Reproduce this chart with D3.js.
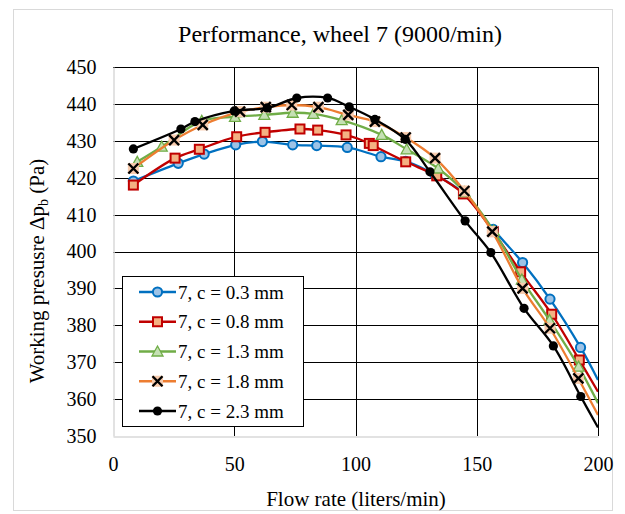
<!DOCTYPE html>
<html>
<head>
<meta charset="utf-8">
<script src="https://cdn.jsdelivr.net/npm/d3@7"></script>
<style>
  body { margin: 0; background: #fff; }
  text { font-family: "Liberation Serif", "Times New Roman", serif; fill: #000; }
</style>
</head>
<body>
<div id="chart"></div>
<script>
// Flow rate (liters/min) and working pressure (Pa) for each clearance
const flow03 = [8.4, 26.9, 37.6, 50.6, 61.6, 74.1, 84.0, 96.6, 110.5, 120.7, 132.8, 144.6, 156.8, 168.9, 180.2, 192.8];
const pres03 = [419.1, 423.9, 426.4, 428.9, 429.8, 428.9, 428.7, 428.2, 425.7, 424.4, 420.8, 415.8, 406.0, 397.0, 387.1, 374.0];

const flow08 = [8.4, 25.6, 35.6, 51.0, 62.7, 77.1, 84.4, 96.1, 105.7, 107.3, 120.7, 133.5, 144.5, 156.8, 168.1, 180.9, 192.3];
const pres08 = [418.0, 425.3, 427.7, 431.1, 432.3, 433.2, 432.9, 431.6, 429.3, 428.7, 424.3, 420.5, 415.6, 405.4, 394.5, 383.0, 370.6];

const flow13 = [10.0, 20.1, 36.6, 50.3, 62.4, 74.1, 82.6, 94.3, 110.8, 121.1, 134.1, 145.0, 157.0, 168.6, 180.0, 192.0];
const pres13 = [424.3, 428.4, 435.4, 436.5, 437.0, 437.6, 437.3, 435.6, 431.6, 427.7, 422.5, 416.1, 405.6, 392.4, 381.4, 368.8];

const flow18 = [8.4, 25.2, 37.0, 52.4, 63.0, 73.7, 84.7, 97.0, 108.0, 120.7, 132.8, 144.9, 156.4, 168.9, 180.2, 191.9];
const pres18 = [422.5, 430.2, 434.3, 437.9, 439.1, 439.7, 439.1, 437.0, 435.2, 430.9, 425.3, 416.4, 405.4, 390.0, 379.2, 365.6];

const flow23 = [8.4, 28.0, 33.8, 50.0, 63.6, 75.8, 88.5, 97.4, 108.0, 120.5, 130.7, 145.2, 155.8, 169.5, 181.6, 192.9];
const pres23 = [427.8, 433.2, 435.2, 438.1, 438.9, 441.6, 441.6, 439.2, 435.8, 430.4, 421.6, 408.3, 399.7, 384.6, 374.4, 360.7];

// The smoothed lines run on to the right edge of the plot (no marker there)
const lineEndFlow = 200;
const lineEndPres = [365.2, 362.0, 358.9, 355.7, 352.3];

const seriesNames = ["7, c = 0.3 mm", "7, c = 0.8 mm", "7, c = 1.3 mm", "7, c = 1.8 mm", "7, c = 2.3 mm"];
const xTicks = [0, 50, 100, 150, 200];
const yTicks = [350, 360, 370, 380, 390, 400, 410, 420, 430, 440, 450];

const series = [
  { name: seriesNames[0], flow: flow03, pres: pres03, end: lineEndPres[0], line: "#0070C0", marker: "circle" },
  { name: seriesNames[1], flow: flow08, pres: pres08, end: lineEndPres[1], line: "#C00000", marker: "square" },
  { name: seriesNames[2], flow: flow13, pres: pres13, end: lineEndPres[2], line: "#70AD47", marker: "triangle" },
  { name: seriesNames[3], flow: flow18, pres: pres18, end: lineEndPres[3], line: "#ED7D31", marker: "cross" },
  { name: seriesNames[4], flow: flow23, pres: pres23, end: lineEndPres[4], line: "#000000", marker: "dot" }
];

// Set dimensions for the SVG
const W = 625, H = 514;
const plot = { left: 113, top: 67, right: 598, bottom: 436 };

const svg = d3.select("#chart")
  .append("svg")
  .attr("width", W)
  .attr("height", H);

// Chart frame
svg.append("rect")
  .attr("x", 13.5).attr("y", 9.5)
  .attr("width", 599).attr("height", 501)
  .attr("fill", "#fff")
  .attr("stroke", "#d9d9d9");

const x = d3.scaleLinear().domain([0, 200]).range([plot.left, plot.right]);
const y = d3.scaleLinear().domain([350, 450]).range([plot.bottom, plot.top]);

// Grid lines (black)
const grid = svg.append("g").attr("class", "grid");
grid.selectAll(".hgrid")
  .data(yTicks.filter((d) => d > 350))
  .enter()
  .append("line")
  .attr("x1", plot.left).attr("x2", plot.right)
  .attr("y1", (d) => Math.round(y(d)) + 0.5).attr("y2", (d) => Math.round(y(d)) + 0.5)
  .attr("stroke", "#000")
  .attr("stroke-width", 1);
grid.selectAll(".vgrid")
  .data(xTicks.filter((d) => d > 0))
  .enter()
  .append("line")
  .attr("x1", (d) => Math.round(x(d)) + 0.5).attr("x2", (d) => Math.round(x(d)) + 0.5)
  .attr("y1", plot.top).attr("y2", plot.bottom)
  .attr("stroke", "#000")
  .attr("stroke-width", 1);

// Axes (grey lines, no ticks)
const xAxis = svg.append("g")
  .attr("transform", `translate(0,${Math.round(plot.bottom) + 0.5})`)
  .call(d3.axisBottom(x).tickValues(xTicks).tickSize(0).tickPadding(20));
const yAxis = svg.append("g")
  .attr("transform", `translate(${Math.round(plot.left) + 0.5},0)`)
  .call(d3.axisLeft(y).tickValues(yTicks).tickSize(0).tickPadding(17));
[xAxis, yAxis].forEach((g) => {
  g.select(".domain").attr("stroke", "#d9d9d9").attr("stroke-width", 1.5);
  g.selectAll("text")
    .style("font-family", '"Liberation Serif", serif')
    .style("font-size", "20px")
    .attr("fill", "#000");
});

// Clip lines to the plot area
svg.append("clipPath").attr("id", "plotClip")
  .append("rect")
  .attr("x", plot.left).attr("y", plot.top)
  .attr("width", plot.right - plot.left).attr("height", plot.bottom - plot.top);

const lineGenerator = d3.line()
  .x((d) => x(d[0]))
  .y((d) => y(d[1]))
  .curve(d3.curveCatmullRom.alpha(0.5));

// Marker drawing helper
function drawMarker(g, type) {
  if (type === "circle") {
    g.append("circle").attr("r", 4.6)
      .attr("fill", "#9DC3E6").attr("stroke", "#0070C0").attr("stroke-width", 2);
  } else if (type === "square") {
    g.append("rect").attr("x", -4.5).attr("y", -4.5).attr("width", 9).attr("height", 9)
      .attr("fill", "#F4B183").attr("stroke", "#C00000").attr("stroke-width", 2);
  } else if (type === "triangle") {
    g.append("path").attr("d", "M0,-5.5L5.5,4.5L-5.5,4.5Z")
      .attr("fill", "#C5E0B4").attr("stroke", "#70AD47").attr("stroke-width", 1.3);
  } else if (type === "cross") {
    g.append("rect").attr("x", -5.5).attr("y", -5.5).attr("width", 11).attr("height", 11)
      .attr("fill", "#F8CBAD");
    g.append("path").attr("d", "M-5,-5L5,5M5,-5L-5,5")
      .attr("stroke", "#000").attr("stroke-width", 2.4).attr("fill", "none");
  } else {
    g.append("circle").attr("r", 4.6).attr("fill", "#000");
  }
}

// Draw each series: smoothed line then markers
series.forEach((s) => {
  const pts = s.flow.map((f, i) => [f, s.pres[i]]);
  const linePts = pts.concat([[lineEndFlow, s.end]]);

  svg.append("path")
    .datum(linePts)
    .attr("clip-path", "url(#plotClip)")
    .attr("fill", "none")
    .attr("stroke", s.line)
    .attr("stroke-width", 2.3)
    .attr("d", lineGenerator);

  svg.append("g")
    .selectAll("g")
    .data(pts)
    .enter()
    .append("g")
    .attr("transform", (d) => `translate(${x(d[0])},${y(d[1])})`)
    .each(function () { drawMarker(d3.select(this), s.marker); });
});

// Legend
const legend = svg.append("g").attr("class", "legend");
legend.append("rect")
  .attr("x", 122.5).attr("y", 276.5)
  .attr("width", 181).attr("height", 150)
  .attr("fill", "#fff").attr("stroke", "#000");

const legendRow = d3.scaleLinear().domain([0, 4]).range([292, 411]);
series.forEach((s, i) => {
  const row = legend.append("g").attr("transform", `translate(0,${legendRow(i)})`);
  row.append("line")
    .attr("x1", 139).attr("x2", 176)
    .attr("stroke", s.line).attr("stroke-width", 2.3);
  drawMarker(row.append("g").attr("transform", "translate(157.5,0)"), s.marker);
  row.append("text")
    .attr("x", 178).attr("y", 6.5)
    .style("font-size", "19px")
    .text(s.name);
});

// Title
svg.append("text")
  .attr("x", 340).attr("y", 42)
  .attr("text-anchor", "middle")
  .style("font-size", "24px")
  .text("Performance, wheel 7 (9000/min)");

// Axis titles
svg.append("text")
  .attr("x", 356).attr("y", 506)
  .attr("text-anchor", "middle")
  .style("font-size", "21px")
  .text("Flow rate (liters/min)");

const yTitle = svg.append("text")
  .attr("transform", "translate(44,271) rotate(-90)")
  .attr("text-anchor", "middle")
  .style("font-size", "21px");
yTitle.append("tspan").text("Working presusre Δp");
yTitle.append("tspan").attr("dy", 4).style("font-size", "14px").text("b");
yTitle.append("tspan").attr("dy", -4).text(" (Pa)");
</script>
</body>
</html>
